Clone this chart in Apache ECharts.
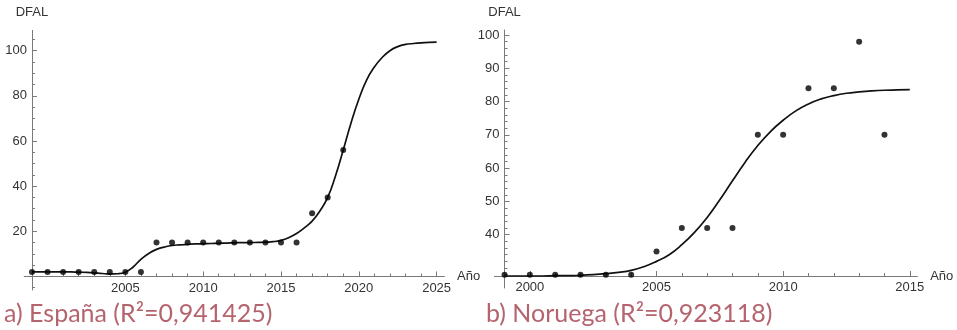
<!DOCTYPE html>
<html>
<head>
<meta charset="utf-8">
<style>
  html, body { margin: 0; padding: 0; background: #fff; }
  #chart { width: 957px; height: 330px; }
</style>
<script src="https://cdn.jsdelivr.net/npm/echarts@6/dist/echarts.min.js"></script>
</head>
<body>
<div id="chart"></div>
<script>
// ---- España: observed DFAL and the fitted curve ----
const spainYears  = [1999, 2000, 2001, 2002, 2003, 2004, 2005, 2006, 2007, 2008, 2009, 2010, 2011, 2012, 2013, 2014, 2015, 2016, 2017, 2018, 2019];
const spainValues = [2, 2, 2, 2, 2, 2, 2, 2, 15, 15, 15, 15, 15, 15, 15, 15, 15, 15, 28, 35, 56];
const spainFitYears  = [1999, 1999.5, 2000, 2000.5, 2001, 2001.5, 2002, 2002.5, 2003, 2003.5, 2004, 2004.5, 2005, 2005.5, 2006, 2006.5, 2007, 2007.5, 2008, 2008.5, 2009, 2009.5, 2010, 2010.5, 2011, 2011.5, 2012, 2012.5, 2013, 2013.5, 2014, 2014.5, 2015, 2015.5, 2016, 2016.5, 2017, 2017.5, 2018, 2018.5, 2019, 2019.5, 2020, 2020.5, 2021, 2021.5, 2022, 2022.5, 2023, 2023.5, 2024, 2024.5, 2025];
const spainFitValues = [2, 2, 2, 2, 2, 2, 1.9, 1.8, 1.6, 1.3, 1.1, 1.2, 1.9, 4.2, 7.6, 10.2, 12, 13, 13.7, 14, 14.2, 14.4, 14.5, 14.6, 14.7, 14.8, 14.9, 15, 15, 15.1, 15.2, 15.4, 16, 17.2, 19, 21.5, 24.5, 29, 35, 44.5, 56, 68, 78.5, 87, 92.8, 97, 100, 101.8, 102.8, 103.2, 103.5, 103.7, 103.8];
const spainXTicks = [2005, 2010, 2015, 2020, 2025];
const spainYTicks = [20, 40, 60, 80, 100];
const spainR2 = '0,941425';

// ---- Noruega: observed DFAL and the fitted curve ----
const norwayYears  = [1999, 2000, 2001, 2002, 2003, 2004, 2005, 2006, 2007, 2008, 2009, 2010, 2011, 2012, 2013, 2014];
const norwayValues = [28, 28, 28, 28, 28, 28, 35, 42, 42, 42, 70, 70, 84, 84, 98, 70];
const norwayFitYears  = [1999, 1999.5, 2000, 2000.5, 2001, 2001.5, 2002, 2002.5, 2003, 2003.5, 2004, 2004.5, 2005, 2005.5, 2006, 2006.5, 2007, 2007.5, 2008, 2008.5, 2009, 2009.5, 2010, 2010.5, 2011, 2011.5, 2012, 2012.5, 2013, 2013.5, 2014, 2014.5, 2015];
const norwayFitValues = [27.6, 27.6, 27.6, 27.6, 27.7, 27.7, 27.8, 28, 28.3, 28.7, 29.3, 30.4, 32, 34, 37, 40.7, 45.2, 50.5, 56.2, 61.8, 66.8, 71, 74.4, 77.2, 79.3, 80.8, 81.8, 82.5, 82.9, 83.2, 83.4, 83.5, 83.6];
const norwayXTicks = [2000, 2005, 2010, 2015];
const norwayYTicks = [40, 50, 60, 70, 80, 90, 100];
const norwayR2 = '0,923118';

// ---- axis extents (Mathematica-style axes crossing at the origin) ----
const spainX = { min: 1998.5, max: 2025.5, origin: 1999 };
const spainY = { min: -6, max: 109, origin: 0 };
const norwayX = { min: 1998.6, max: 2015.3, origin: 1999 };
const norwayY = { min: 24, max: 101.5, origin: 27.6 };

const grids = [
  { left: 24.2, top: 30.4, width: 420.2, height: 259.6 },
  { left: 494.4, top: 30, width: 423, height: 258 }
];

const pairs = (xs, ys) => xs.map((x, i) => [x, ys[i]]);
const range = (a, b, step) => { const r = []; for (let v = a; v <= b + 1e-9; v += step) r.push(+v.toFixed(4)); return r; };
const without = (arr, skip) => arr.filter(v => skip.indexOf(v) < 0);

const axisGray = '#7a7a7a';
const labelColor = '#333';
const labelFont = { fontFamily: 'Liberation Sans, Arial, sans-serif', fontSize: 13, color: labelColor };
const plain = v => String(v);

function mainX(gridIndex, ext, ticks, offset) {
  return {
    type: 'value', gridIndex, min: ext.min, max: ext.max, position: 'bottom', offset,
    name: 'Año', nameLocation: 'end', nameGap: 10,
    nameTextStyle: Object.assign({}, labelFont),
    axisLine: { show: true, onZero: false, lineStyle: { color: axisGray, width: 1 } },
    axisTick: { show: true, inside: true, length: 5, customValues: ticks, lineStyle: { color: axisGray } },
    axisLabel: { show: true, customValues: ticks, margin: 5, formatter: plain, ...labelFont },
    splitLine: { show: false }
  };
}
function minorX(gridIndex, ext, ticks, offset) {
  return {
    type: 'value', gridIndex, min: ext.min, max: ext.max, position: 'bottom', offset,
    axisLine: { show: false, onZero: false },
    axisTick: { show: true, inside: true, length: 3, customValues: ticks, lineStyle: { color: axisGray } },
    axisLabel: { show: false },
    splitLine: { show: false }
  };
}
function mainY(gridIndex, ext, ticks, offset) {
  return {
    type: 'value', gridIndex, min: ext.min, max: ext.max, position: 'left', offset,
    name: 'DFAL', nameLocation: 'end', nameGap: 11,
    nameTextStyle: Object.assign({ align: 'center' }, labelFont),
    axisLine: { show: true, onZero: false, lineStyle: { color: axisGray, width: 1 } },
    axisTick: { show: true, inside: true, length: 5, customValues: ticks, lineStyle: { color: axisGray } },
    axisLabel: { show: true, customValues: ticks, margin: 5, formatter: plain, ...labelFont },
    splitLine: { show: false }
  };
}
function minorY(gridIndex, ext, ticks, offset) {
  return {
    type: 'value', gridIndex, min: ext.min, max: ext.max, position: 'left', offset,
    axisLine: { show: false, onZero: false },
    axisTick: { show: true, inside: true, length: 3, customValues: ticks, lineStyle: { color: axisGray } },
    axisLabel: { show: false },
    splitLine: { show: false }
  };
}

// distance from each grid edge to where the other axis crosses
const yAxisShift = (ext, g) => -(ext.origin - ext.min) / (ext.max - ext.min) * g.width;
const xAxisShift = (ext, g) => -(ext.origin - ext.min) / (ext.max - ext.min) * g.height;
const spainYOffset = yAxisShift(spainX, grids[0]);
const spainXOffset = xAxisShift(spainY, grids[0]);
const norwayYOffset = yAxisShift(norwayX, grids[1]);
const norwayXOffset = xAxisShift(norwayY, grids[1]);

const spainMinorX = without(range(1999, 2025, 1), spainXTicks.concat([2000]));
const spainMinorY = without(range(-5, 105, 5), spainYTicks.concat([0]));
const norwayMinorX = without(range(1999, 2015, 1), norwayXTicks);
const norwayMinorY = without(range(28, 100, 2), norwayYTicks);

const captionStyle = { fontFamily: 'Lato, Open Sans, sans-serif', fontSize: 25, fontWeight: 'normal', color: '#b5646e' };

const option = {
  animation: false,
  backgroundColor: '#fff',
  title: [
    { text: 'a) España (R²=' + spainR2 + ')', left: 4, top: 301, padding: 0, textStyle: captionStyle },
    { text: 'b) Noruega (R²=' + norwayR2 + ')', left: 486, top: 301, padding: 0, textStyle: captionStyle }
  ],
  grid: grids.map(g => Object.assign({ containLabel: false }, g)),
  xAxis: [
    mainX(0, spainX, spainXTicks, spainXOffset),
    minorX(0, spainX, spainMinorX, spainXOffset),
    mainX(1, norwayX, norwayXTicks, norwayXOffset),
    minorX(1, norwayX, norwayMinorX, norwayXOffset)
  ],
  yAxis: [
    mainY(0, spainY, spainYTicks, spainYOffset),
    minorY(0, spainY, spainMinorY, spainYOffset),
    mainY(1, norwayY, norwayYTicks, norwayYOffset),
    minorY(1, norwayY, norwayMinorY, norwayYOffset)
  ],
  series: [
    {
      type: 'line', xAxisIndex: 0, yAxisIndex: 0,
      data: pairs(spainFitYears, spainFitValues),
      showSymbol: false, smooth: 0.5,
      lineStyle: { color: '#111', width: 1.7 }, z: 2
    },
    {
      type: 'scatter', xAxisIndex: 0, yAxisIndex: 0,
      data: pairs(spainYears, spainValues),
      symbol: 'circle', symbolSize: 6, itemStyle: { color: '#000' }, z: 3
    },
    {
      type: 'line', xAxisIndex: 2, yAxisIndex: 2,
      data: pairs(norwayFitYears, norwayFitValues),
      showSymbol: false, smooth: 0.5,
      lineStyle: { color: '#111', width: 1.7 }, z: 2
    },
    {
      type: 'scatter', xAxisIndex: 2, yAxisIndex: 2,
      data: pairs(norwayYears, norwayValues),
      symbol: 'circle', symbolSize: 6, itemStyle: { color: '#000' }, z: 3
    }
  ]
};

const chart = echarts.init(document.getElementById('chart'), null, { renderer: 'canvas' });
chart.setOption(option);
</script>
</body>
</html>
